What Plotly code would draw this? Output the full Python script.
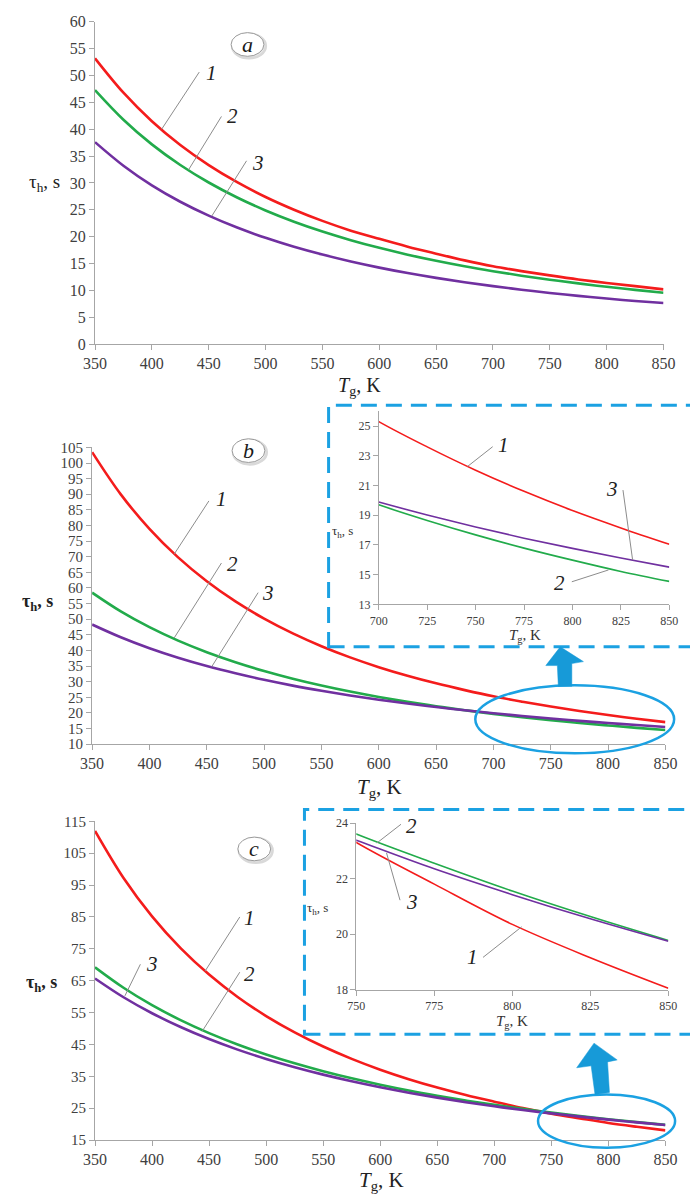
import plotly.graph_objects as go

W, H = 690, 1202

# ---------------- data ----------------
T = [350, 375, 400, 425, 450, 475, 500, 525, 550, 575, 600, 625, 650, 675, 700, 725, 750, 775, 800, 825, 850]

a_1 = [53.2, 46.8, 41.5, 37.07, 33.34, 30.15, 27.4, 25.03, 22.95, 21.13, 19.6, 18.15, 16.85, 15.6, 14.5, 13.6, 12.8, 12.05, 11.4, 10.8, 10.2]
a_2 = [47.3, 41.78, 37.19, 33.35, 30.09, 27.3, 24.89, 22.8, 20.97, 19.36, 17.93, 16.66, 15.52, 14.5, 13.59, 12.75, 12.0, 11.31, 10.68, 10.11, 9.58]
a_3 = [37.6, 33.21, 29.56, 26.51, 23.92, 21.7, 19.79, 18.12, 16.67, 15.39, 14.25, 13.24, 12.34, 11.53, 10.8, 10.14, 9.54, 8.99, 8.49, 8.04, 7.65]

b_1 = [103.5, 89.97, 78.93, 69.79, 62.14, 55.68, 50.18, 45.45, 41.35, 37.78, 34.65, 31.9, 29.46, 27.29, 25.3, 23.6, 22.03, 20.61, 19.32, 18.15, 17.05]
b_2 = [58.5, 52.5, 47.44, 43.13, 39.43, 36.22, 33.42, 30.95, 28.77, 26.83, 25.1, 23.54, 22.14, 20.86, 19.7, 18.65, 17.68, 16.79, 15.98, 15.22, 14.55]
b_3 = [48.3, 44.22, 40.71, 37.67, 35.01, 32.68, 30.6, 28.74, 27.08, 25.58, 24.23, 23.0, 21.87, 20.84, 19.89, 19.02, 18.21, 17.46, 16.77, 16.12, 15.51]

c_1 = [112.0, 97.23, 85.18, 75.22, 66.91, 59.89, 53.91, 48.78, 44.34, 40.48, 37.09, 34.11, 31.48, 29.14, 27.05, 25.05, 23.3, 21.8, 20.35, 19.15, 18.05]
c_2 = [69.2, 62.79, 57.33, 52.63, 48.55, 44.99, 41.85, 39.07, 36.59, 34.37, 32.37, 30.55, 28.91, 27.41, 26.04, 24.79, 23.6, 22.55, 21.55, 20.63, 19.77]
c_3 = [65.7, 59.81, 54.79, 50.46, 46.68, 43.37, 40.45, 37.85, 35.53, 33.45, 31.57, 29.86, 28.31, 26.89, 25.6, 24.42, 23.38, 22.35, 21.42, 20.55, 19.74]

x_ticks_main = [350, 400, 450, 500, 550, 600, 650, 700, 750, 800, 850]
y_ticks_c = [15, 25, 35, 45, 55, 65, 75, 85, 95, 105, 115]
y_ticks_bi = [13, 15, 17, 19, 21, 23, 25]
y_ticks_ci = [18, 20, 22, 24]

RED, GREEN, PURPLE = "#f41c1c", "#22ab4b", "#7030a0"
BLUE = "#1ba1e2"
ARROW = "#179ad8"
AX = "#a6a6a6"
TXT = "#404040"
SERIF = "Liberation Serif"


def px(x):
    return x / W


def py(y):
    return 1 - y / H


fig = go.Figure()

panels = [
    ("a", "x", "y", (a_1, a_2, a_3), 2.6),
    ("b", "x2", "y2", (b_1, b_2, b_3), 2.6),
    ("c", "x3", "y3", (c_1, c_2, c_3), 2.6),
    ("bi", "x4", "y4", (b_1, b_2, b_3), 1.6),
    ("ci", "x5", "y5", (c_1, c_2, c_3), 1.6),
]
for name, xa, ya, series, lw in panels:
    for vals, col in zip(series, (RED, GREEN, PURPLE)):
        fig.add_trace(go.Scatter(x=T, y=vals, mode="lines", xaxis=xa, yaxis=ya,
                                 line=dict(color=col, width=lw, shape="spline"),
                                 showlegend=False, hoverinfo="skip"))

common = dict(showgrid=False, zeroline=False, showline=True, linecolor=AX, linewidth=1,
              ticks="outside", tickcolor=AX, ticklen=5, tickwidth=1)


def tf(size):
    return dict(family=SERIF, size=size, color=TXT)


fig.update_layout(
    width=W, height=H, margin=dict(l=0, r=0, t=0, b=0),
    paper_bgcolor="white", plot_bgcolor="white",
    xaxis=dict(domain=[px(86), px(675)], range=[350, 850], tickvals=x_ticks_main,
               tickfont=tf(16), anchor="y", **common),
    yaxis=dict(domain=[py(341), py(14)], range=[0, 60], dtick=5,
               tickfont=tf(16), anchor="x", **common),
    xaxis2=dict(domain=[px(83), px(677)], range=[350, 850], tickvals=x_ticks_main,
                tickfont=tf(16), anchor="y2", **common),
    yaxis2=dict(domain=[py(746.7), py(445.7)], range=[10, 105], dtick=5,
                tickfont=tf(15), anchor="x2", **common),
    xaxis3=dict(domain=[px(86), px(677)], range=[350, 850], tickvals=x_ticks_main,
                tickfont=tf(16), anchor="y3", **common),
    yaxis3=dict(domain=[py(1148.3), py(825)], range=[15, 115], tickvals=y_ticks_c,
                tickfont=tf(15), anchor="x3", **common),
    xaxis4=dict(domain=[px(380), px(681)], range=[700, 850], dtick=25,
                tickfont=tf(12), anchor="y4", **common),
    yaxis4=dict(domain=[py(605), py(409)], range=[13, 26], tickvals=y_ticks_bi,
                tickfont=tf(12), anchor="x4", **common),
    xaxis5=dict(domain=[px(356.7), px(680)], range=[750, 850], dtick=25,
                tickfont=tf(12), anchor="y5", **common),
    yaxis5=dict(domain=[py(995.7), py(826.7)], range=[18, 24], tickvals=y_ticks_ci,
                tickfont=tf(12), anchor="x5", **common),
)

shapes = []
ann = []


def line(x0, y0, x1, y1, color="#8c8c8c", width=1):
    shapes.append(dict(type="line", xref="paper", yref="paper", x0=px(x0), y0=py(y0),
                       x1=px(x1), y1=py(y1), line=dict(color=color, width=width)))


def text(x, y, s, size, color="#222", italic=False):
    ann.append(dict(xref="paper", yref="paper", x=px(x), y=py(y), text=s, showarrow=False,
                    xanchor="center", yanchor="middle",
                    font=dict(family=SERIF, size=size, color=color,
                              style="italic" if italic else "normal")))


# dashed inset frames
for (x0, y0, y1) in [(328, 403, 648), (303, 813, 1041)]:
    shapes.append(dict(type="rect", xref="paper", yref="paper", x0=px(x0), y0=py(y1),
                       x1=px(720), y1=py(y0),
                       line=dict(color=BLUE, width=3, dash="16px,9px")))

# zoom ellipses
for (x0, y0, x1, y1) in [(480, 687, 686, 756), (545, 1102, 687, 1156)]:
    shapes.append(dict(type="circle", xref="paper", yref="paper", x0=px(x0), y0=py(y1),
                       x1=px(x1), y1=py(y0), line=dict(color=BLUE, width=2.5)))


def poly(pts, color):
    d = "M " + " L ".join(f"{px(x):.5f},{py(y):.5f}" for x, y in pts) + " Z"
    shapes.append(dict(type="path", xref="paper", yref="paper", path=d,
                       fillcolor=color, line=dict(color=color, width=0.5)))


poly([(568, 648), (592, 663), (580, 665), (580, 688), (566, 688), (565, 667), (553, 667)], ARROW)
poly([(603, 1050), (627, 1067), (617, 1069), (619, 1100), (604, 1102), (600, 1073), (585, 1075)], ARROW)

# panel label bubbles
for (cx, cy, s) in [(244, 37, "a"), (245, 449, "b"), (251, 853, "c")]:
    shapes.append(dict(type="circle", xref="paper", yref="paper",
                       x0=px(cx - 16), y0=py(cy + 14), x1=px(cx + 19), y1=py(cy - 11),
                       line=dict(color="#d9d9d9", width=2.5), fillcolor="#e8e8e8"))
    shapes.append(dict(type="circle", xref="paper", yref="paper",
                       x0=px(cx - 17), y0=py(cy + 12), x1=px(cx + 17), y1=py(cy - 12),
                       line=dict(color="#9a9a9a", width=1), fillcolor="white"))
    text(cx, cy, s, 22, color="#1a1a1a", italic=True)

# leader lines + curve numbers, panel a
line(194, 65, 155, 123); text(207, 66, "1", 21, italic=True)
line(217, 110, 183, 164); text(228, 110, "2", 21, italic=True)
line(243, 155, 207, 211); text(255, 157, "3", 21, italic=True)
# panel b
line(204, 500, 168, 554); text(217, 498, "1", 21, italic=True)
line(217, 563, 168, 639); text(228, 564, "2", 21, italic=True)
line(255, 593, 207, 668); text(265, 593, "3", 21, italic=True)
# inset b
line(498, 445, 472, 465); text(509, 443, "1", 21, italic=True)
line(633, 489, 643, 560); text(622, 488, "3", 21, italic=True)
line(580, 582, 618, 570); text(567, 583, "2", 21, italic=True)
# panel c
line(236, 922, 200, 977); text(246, 923, "1", 21, italic=True)
line(236, 978, 197, 1038); text(246, 980, "2", 21, italic=True)
line(133, 970, 117, 1002); text(145, 970, "3", 21, italic=True)
# inset c
line(403, 828, 378, 847); text(414, 830, "2", 21, italic=True)
line(402, 905, 388, 857); text(414, 907, "3", 21, italic=True)
line(488, 963, 528, 932); text(477, 963, "1", 21, italic=True)

# axis titles
YT = "τ<sub>h</sub>, s"
XT = "<i>T</i><sub>g</sub>, K"
text(34, 178, YT, 19, color="#222")
text(26, 603, "<b>τ<sub>h</sub>, s</b>", 18, color="#222")
text(31, 990, "<b>τ<sub>h</sub>, s</b>", 18, color="#222")
text(360, 384, XT, 20, color="#222")
text(381, 791, XT, 21, color="#222")
text(383, 1190, XT, 21, color="#222")
text(342, 531, YT, 13, color="#333")
text(531, 637, XT, 15, color="#333")
text(316, 913, YT, 13, color="#333")
text(518, 1029, XT, 15, color="#333")

fig.update_layout(shapes=shapes, annotations=ann)
fig.write_html("out.html", config={"displayModeBar": False},
               post_script="document.body.style.margin='0px';document.body.style.overflow='hidden';")
